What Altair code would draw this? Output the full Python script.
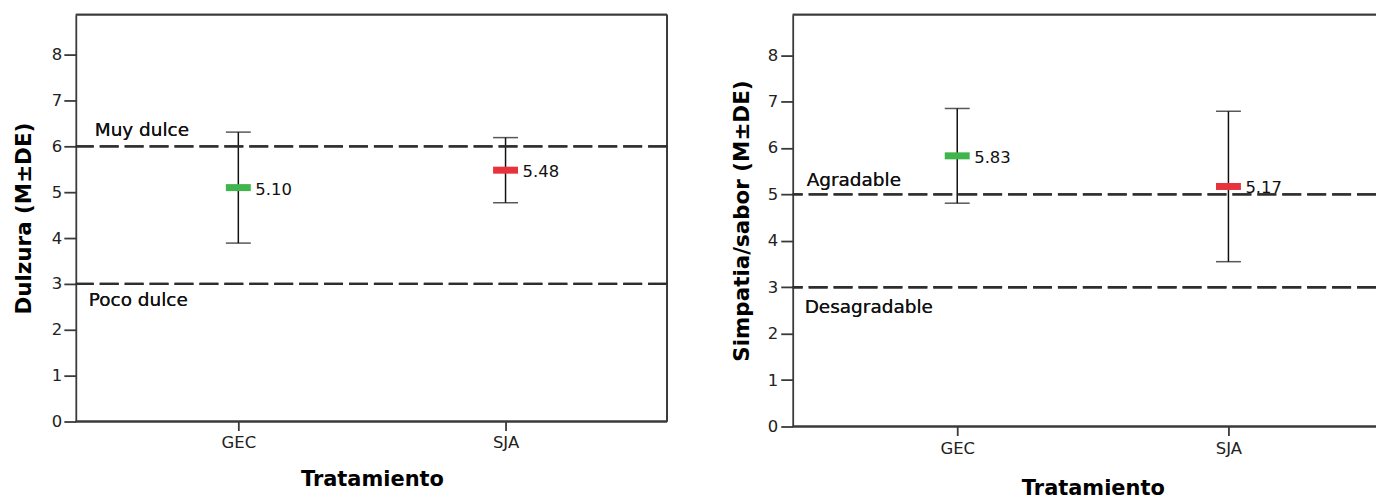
import altair as alt
import pandas as pd

# ---- data ----
categories = ["GEC", "SJA"]
dulzura_mean = [5.10, 5.48]
dulzura_sd = [1.21, 0.71]
sabor_mean = [5.83, 5.17]
sabor_sd = [1.02, 1.62]
bar_colors = ["#3fb54b", "#e8323c"]

dulzura_refs = [6, 3]
dulzura_ref_labels = ["Muy dulce", "Poco dulce"]
sabor_refs = [5, 3]
sabor_ref_labels = ["Agradable", "Desagradable"]

Y_MAX = 8.87
REG_FONT = "DejaVu Sans"
FRAME = "#3a3a3a"


def panel(means, sds, ytitle, refs, ref_labels, ref_dx, ref_dy, width, height,
          xrange, right_border, ytitle_pad, ylabel_pad, xtitle_pad, xlabel_pad):
    df = pd.DataFrame({
        "cat": categories,
        "mean": means,
        "lo": [m - s for m, s in zip(means, sds)],
        "hi": [m + s for m, s in zip(means, sds)],
        "label": [f"{m:.2f}" for m in means],
    })
    x = alt.X("cat:N", sort=categories,
              scale=alt.Scale(type="point", range=xrange, padding=0),
              axis=alt.Axis(title="Tratamiento", labelAngle=0, tickSize=9,
                            labelPadding=xlabel_pad, labelFont=REG_FONT,
                            labelFontSize=16.5, labelColor="#222222",
                            titleFont="DejaVu Sans", titleFontWeight="bold",
                            titleFontSize=21, titleColor="#000000",
                            titlePadding=xtitle_pad, domain=False,
                            tickColor=FRAME, tickWidth=1.8))
    yscale = alt.Scale(domain=[0, Y_MAX], nice=False, zero=True)
    y_axis = alt.Axis(title=ytitle, values=list(range(0, 9)), format="d",
                      tickSize=12, labelPadding=ylabel_pad, labelFont=REG_FONT,
                      labelFontSize=16.5, labelColor="#222222", grid=False,
                      titleFont="DejaVu Sans", titleFontWeight="bold",
                      titleFontSize=21.5, titleColor="#000000",
                      titlePadding=ytitle_pad, domainColor=FRAME,
                      domainWidth=1.8, tickColor=FRAME, tickWidth=1.8)

    base = alt.Chart(df)
    err = base.mark_rule(color="#111111", strokeWidth=1.5).encode(
        x=x, y=alt.Y("lo:Q", scale=yscale, axis=y_axis), y2="hi:Q")
    cap_hi = base.mark_tick(color="#111111", thickness=1.5, size=25).encode(
        x=alt.X("cat:N", sort=categories), y=alt.Y("hi:Q"))
    cap_lo = base.mark_tick(color="#111111", thickness=1.5, size=25).encode(
        x=alt.X("cat:N", sort=categories), y=alt.Y("lo:Q"))
    mean_mark = base.mark_tick(thickness=7, size=25, opacity=1).encode(
        x=alt.X("cat:N", sort=categories), y=alt.Y("mean:Q"),
        color=alt.Color("cat:N", scale=alt.Scale(domain=categories, range=bar_colors),
                        legend=None))
    txt = base.mark_text(align="left", baseline="alphabetic", dx=17, dy=7,
                         font=REG_FONT, fontSize=16.5, color="#111111").encode(
        x=alt.X("cat:N", sort=categories), y=alt.Y("mean:Q"), text="label:N")

    frame = [
        base.mark_rule(color=FRAME, strokeWidth=1.8).encode(
            y=alt.datum(Y_MAX), x=alt.value(0), x2=alt.value(width)),
        base.mark_rule(color=FRAME, strokeWidth=1.8).encode(
            y=alt.datum(0), x=alt.value(0), x2=alt.value(width)),
    ]
    if right_border:
        frame.append(base.mark_rule(color=FRAME, strokeWidth=1.8).encode(
            x=alt.value(width), y=alt.value(0), y2=alt.value(height)))

    layers = []
    for r, lab, dx, dy in zip(refs, ref_labels, ref_dx, ref_dy):
        layers.append(alt.Chart(df).mark_rule(color="#2e2e2e", strokeWidth=2.4,
                                              strokeDash=[19, 6]).encode(
            y=alt.datum(r)))
        layers.append(alt.Chart(df).mark_text(align="left", baseline="alphabetic",
                                              dy=dy, font=REG_FONT, fontSize=18.5,
                                              color="#111111").encode(
            x=alt.value(dx), y=alt.datum(r), text=alt.value(lab)))

    return alt.layer(err, *frame, *layers, cap_hi, cap_lo, mean_mark, txt).properties(
        width=width, height=height)


left = panel(dulzura_mean, dulzura_sd, "Dulzura (M±DE)", dulzura_refs,
             dulzura_ref_labels, [19, 13], [-10, 22], 593, 408,
             [163, 431], True, 16, 2, 18, 4)
right = panel(sabor_mean, sabor_sd, "Simpatia/sabor (M±DE)", sabor_refs,
              sabor_ref_labels, [14, 12], [-8.5, 26], 585, 413,
              [165, 437], False, 14, 3, 21, 5)

chart = alt.hconcat(left, right, spacing=62).properties(
    padding={"left": 5, "top": 5, "right": 0, "bottom": 0}
).configure_view(strokeWidth=0)

chart.save("out.html", embed_options={"renderer": "svg", "actions": False})
